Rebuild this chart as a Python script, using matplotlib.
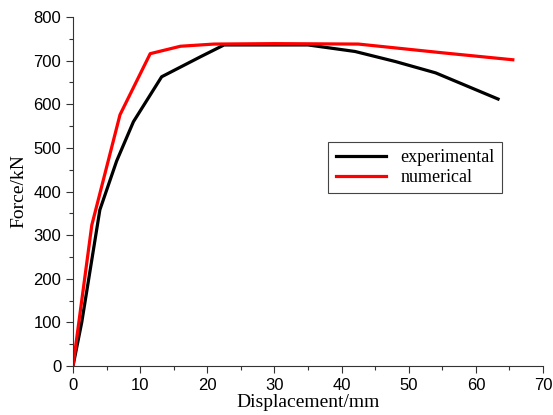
import matplotlib.pyplot as plt
from matplotlib.ticker import MultipleLocator

# experimental curve
exp_x = [0, 1.3, 4, 6.5, 9, 13.2, 19, 22.5, 35, 42, 48, 54, 63.3]
exp_y = [0, 100, 358, 470, 560, 663, 709, 736, 736, 721, 698, 672, 612]

# numerical curve
num_x = [0, 2.8, 7, 11.5, 16, 21, 30, 42.5, 55, 65.5]
num_y = [0, 323, 576, 716, 733, 738, 739, 738, 718, 702]

fig = plt.figure(figsize=(5.53, 4.15), dpi=100)
ax = fig.add_axes([0.132, 0.118, 0.850, 0.841])

ax.plot(exp_x, exp_y, color='black', lw=2.3, label='experimental')
ax.plot(num_x, num_y, color='red', lw=2.3, label='numerical')

ax.set_xlim(0, 70)
ax.set_ylim(0, 800)
ax.xaxis.set_major_locator(MultipleLocator(10))
ax.xaxis.set_minor_locator(MultipleLocator(5))
ax.yaxis.set_major_locator(MultipleLocator(100))
ax.yaxis.set_minor_locator(MultipleLocator(50))

for s in ['top', 'right']:
    ax.spines[s].set_visible(False)
for s in ['left', 'bottom']:
    ax.spines[s].set_color('#333333')
    ax.spines[s].set_linewidth(0.8)

ax.tick_params(which='major', direction='out', length=5, width=0.8, color='#333333')
ax.tick_params(which='minor', direction='out', length=3, width=0.8, color='#333333')
for lab in ax.get_xticklabels() + ax.get_yticklabels():
    lab.set_fontfamily('Liberation Sans')
    lab.set_fontsize(12)

ax.set_xlabel('Displacement/mm', family='Liberation Serif', fontsize=14, labelpad=1)
ax.set_ylabel('Force/kN', family='Liberation Serif', fontsize=14, labelpad=4)

leg = ax.legend(loc='upper left', bbox_to_anchor=(0.524, 0.668), fancybox=False,
                edgecolor='#444444', framealpha=1, borderpad=0.4, handlelength=2.8,
                labelspacing=0.15, prop={'family': 'Liberation Serif', 'size': 13})
leg.get_frame().set_linewidth(0.8)

fig.savefig('out.png', dpi=100)
